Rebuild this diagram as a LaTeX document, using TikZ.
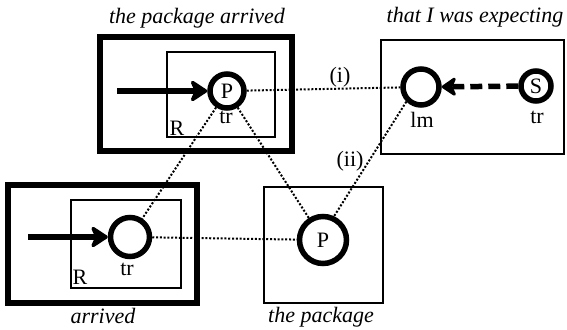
\documentclass[tikz,border=0pt]{standalone}
\usepackage{fontspec}
\setmainfont{Liberation Serif}
\usetikzlibrary{arrows.meta}
\begin{document}
\begin{tikzpicture}[x=1pt,y=-1pt,
  thickbox/.style={line width=6pt},
  thinbox/.style={line width=1.6pt},
  role/.style={circle, draw, line width=5.5pt, inner sep=0pt, fill=white, font=\fontsize{22}{22}\selectfont},
  lbl/.style={inner sep=0pt, font=\fontsize{22}{22}\selectfont},
  ttl/.style={inner sep=0pt, font=\fontsize{22}{22}\selectfont\itshape},
  corr/.style={line width=2pt, dash pattern=on 2pt off 1.8pt},
  profarrow/.style={line width=5.5pt, -{Stealth[length=20pt,width=26pt,inset=6pt,round]}},
  basearrow/.style={line width=5.5pt, dash pattern=on 12pt off 6pt, -{Stealth[length=17pt,width=23pt,inset=5pt,round]}},
]
\useasboundingbox (0,0) rectangle (567,329);

% boxes
\draw[thickbox] (100,37) rectangle (292,151);
\draw[thinbox] (167,52) rectangle (275,137);
\draw[thinbox] (381,40) rectangle (564,154);
\draw[thickbox] (8,185) rectangle (197,303);
\draw[thinbox] (71,200) rectangle (181,288);
\draw[thinbox] (264,187) rectangle (383,303);

% titles
\node[ttl] (t1) at (197,18) {the package arrived};
\node[ttl] (t2) at (475,17) {that I was expecting};
\node[ttl] (t3) at (103,316) {arrived};
\node[ttl] (t4) at (321,317) {the package};

% circles
\node[role, minimum size=34] (p1) at (227,91) {P};
\node[role, minimum size=36] (lm) at (421,87) {};
\node[role, minimum size=30] (s) at (536,86) {S};
\node[role, minimum size=39] (c2) at (130,237) {};
\node[role, minimum size=47] (p2) at (323,240) {P};

% labels
\node[lbl] (tr1) at (226,117) {tr};
\node[lbl] (r1) at (177,128) {R};
\node[lbl] (lml) at (422,120) {lm};
\node[lbl] (tr2) at (537,117) {tr};
\node[lbl] (tr3) at (127,269) {tr};
\node[lbl] (r2) at (80,277) {R};
\node[lbl] (i1) at (340,77) {(i)};
\node[lbl] (i2) at (350,161) {(ii)};

% arrows
\coordinate (a1) at (117,91);
\coordinate (a2) at (28,237);
\draw[profarrow] (a1) -- (p1);
\draw[profarrow] (a2) -- (c2);
\draw[basearrow] (s) -- (lm);

% correspondences
\draw[corr] (p1) -- (lm);
\draw[corr] (p1) -- (c2);
\draw[corr] (p1) -- (p2);
\draw[corr] (lm.225) -- (p2.65);
\draw[corr] (c2) -- (p2);
\end{tikzpicture}
\end{document}
